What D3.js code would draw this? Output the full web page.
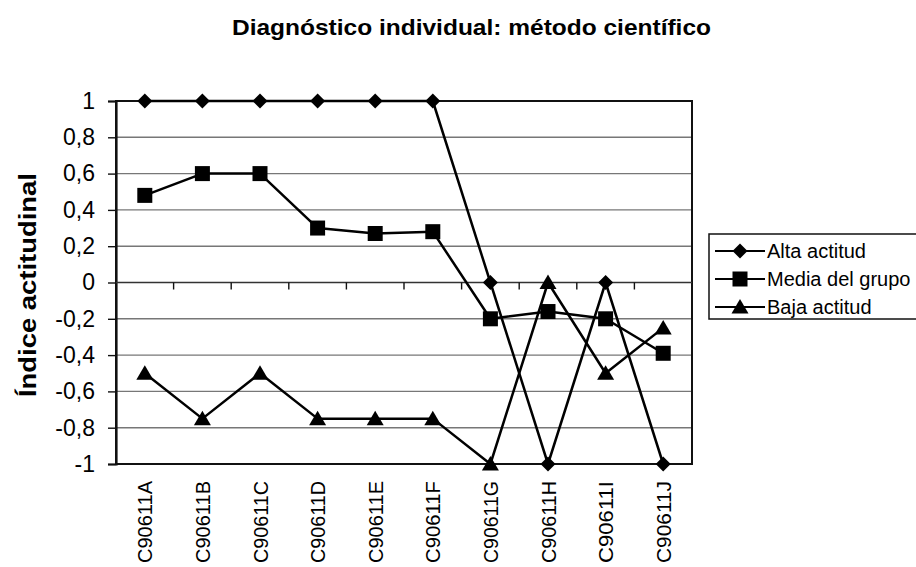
<!DOCTYPE html>
<html>
<head>
<meta charset="utf-8">
<script src="https://cdn.jsdelivr.net/npm/d3@7"></script>
<style>
  body { margin: 0; background: #fff; }
  svg { display: block; font-family: Arial, "Liberation Sans", sans-serif; }
</style>
</head>
<body>
<svg id="chart" width="916" height="567"></svg>
<script>
const categories = ["C90611A","C90611B","C90611C","C90611D","C90611E","C90611F","C90611G","C90611H","C90611I","C90611J"];
const altaActitud = [1, 1, 1, 1, 1, 1, 0, -1, 0, -1];
const mediaGrupo = [0.48, 0.6, 0.6, 0.3, 0.27, 0.28, -0.2, -0.16, -0.2, -0.39];
const bajaActitud = [-0.5, -0.75, -0.5, -0.75, -0.75, -0.75, -1, 0, -0.5, -0.25];
const yTicks = [1, 0.8, 0.6, 0.4, 0.2, 0, -0.2, -0.4, -0.6, -0.8, -1];
const seriesNames = ["Alta actitud", "Media del grupo", "Baja actitud"];
const titleText = "Diagnóstico individual: método científico";
const yTitle = "Índice actitudinal";

const series = [
  { name: seriesNames[0], values: altaActitud, shape: "diamond" },
  { name: seriesNames[1], values: mediaGrupo, shape: "square" },
  { name: seriesNames[2], values: bajaActitud, shape: "triangle" }
];

const svg = d3.select("#chart");
const pLeft = 116, pRight = 692, pTop = 101, pBottom = 464;

const x = d3.scaleBand().domain(categories).range([pLeft, pRight]).padding(0);
const y = d3.scaleLinear().domain([-1, 1]).range([pBottom, pTop]);
const cx = d => x(d) + x.bandwidth() / 2;

// title
svg.append("text")
  .attr("x", 471.5).attr("y", 35)
  .attr("text-anchor", "middle")
  .attr("font-size", 22).attr("font-weight", "bold")
  .attr("textLength", 479).attr("lengthAdjust", "spacingAndGlyphs")
  .text(titleText);

// gridlines
svg.append("g").selectAll("line")
  .data(yTicks.filter(t => t !== 1 && t !== -1 && t !== 0))
  .join("line")
  .attr("x1", pLeft).attr("x2", pRight)
  .attr("y1", d => y(d)).attr("y2", d => y(d))
  .attr("stroke", "#777").attr("stroke-width", 1.4);

// plot border
svg.append("rect")
  .attr("x", pLeft).attr("y", pTop)
  .attr("width", pRight - pLeft).attr("height", pBottom - pTop)
  .attr("fill", "none").attr("stroke", "#111").attr("stroke-width", 2);

// y axis
const yAxis = d3.axisLeft(y).tickValues(yTicks).tickSize(8)
  .tickFormat(d => String(d).replace(".", ","));
const yg = svg.append("g").attr("transform", `translate(${pLeft},0)`).call(yAxis);
yg.select(".domain").attr("stroke", "#111").attr("stroke-width", 2.2);
yg.selectAll(".tick line").attr("stroke", "#111").attr("stroke-width", 1.4);
yg.selectAll(".tick text")
  .attr("x", -21)
  .attr("font-size", 23).attr("fill", "#000")
  .attr("font-family", "Arial, 'Liberation Sans', sans-serif");

// x axis at zero
svg.append("line")
  .attr("x1", pLeft).attr("x2", pRight)
  .attr("y1", y(0)).attr("y2", y(0))
  .attr("stroke", "#333").attr("stroke-width", 1.6);
svg.append("g").selectAll("line")
  .data(categories.slice(1))
  .join("line")
  .attr("x1", d => x(d)).attr("x2", d => x(d))
  .attr("y1", y(0)).attr("y2", y(0) + 7)
  .attr("stroke", "#111").attr("stroke-width", 1.4);

// x labels
svg.append("g").selectAll("text")
  .data(categories)
  .join("text")
  .attr("transform", d => `translate(${cx(d)},481) rotate(-90)`)
  .attr("text-anchor", "end")
  .attr("dy", "0.36em")
  .attr("font-size", 21)
  .attr("textLength", 82).attr("lengthAdjust", "spacingAndGlyphs")
  .text(d => d);

// y title
svg.append("text")
  .attr("transform", `translate(28,285) rotate(-90)`)
  .attr("text-anchor", "middle")
  .attr("dy", "0.36em")
  .attr("font-size", 23).attr("font-weight", "bold")
  .attr("textLength", 224).attr("lengthAdjust", "spacingAndGlyphs")
  .text(yTitle);

// marker generator
function marker(sel, shape) {
  if (shape === "diamond") {
    sel.append("path").attr("d", "M0,-7.5L7.5,0L0,7.5L-7.5,0Z").attr("fill", "#000");
  } else if (shape === "square") {
    sel.append("rect").attr("x", -7.5).attr("y", -7.5).attr("width", 15).attr("height", 15).attr("fill", "#000");
  } else {
    sel.append("path").attr("d", "M0,-8L8.5,6.5L-8.5,6.5Z").attr("fill", "#000");
  }
}

const line = d3.line().x((d, i) => cx(categories[i])).y(d => y(d));

series.forEach(s => {
  svg.append("path")
    .attr("d", line(s.values))
    .attr("fill", "none").attr("stroke", "#000").attr("stroke-width", 2.5)
    .attr("stroke-linejoin", "round");
});
series.forEach(s => {
  s.values.forEach((v, i) => {
    const g = svg.append("g").attr("transform", `translate(${cx(categories[i])},${y(v)})`);
    marker(g, s.shape);
  });
});

// legend
const lg = svg.append("g");
lg.append("rect")
  .attr("x", 709).attr("y", 234).attr("width", 230).attr("height", 85)
  .attr("fill", "#fff").attr("stroke", "#111").attr("stroke-width", 1.5);
const legendY = d3.scalePoint().domain(seriesNames).range([251, 307]);
series.forEach(s => {
  const yy = legendY(s.name);
  lg.append("line").attr("x1", 715).attr("x2", 765).attr("y1", yy).attr("y2", yy)
    .attr("stroke", "#000").attr("stroke-width", 2.2);
  marker(lg.append("g").attr("transform", `translate(740,${yy})`), s.shape);
  lg.append("text").attr("x", 767).attr("y", yy).attr("dy", "0.36em")
    .attr("font-size", 20).text(s.name);
});
</script>
</body>
</html>
